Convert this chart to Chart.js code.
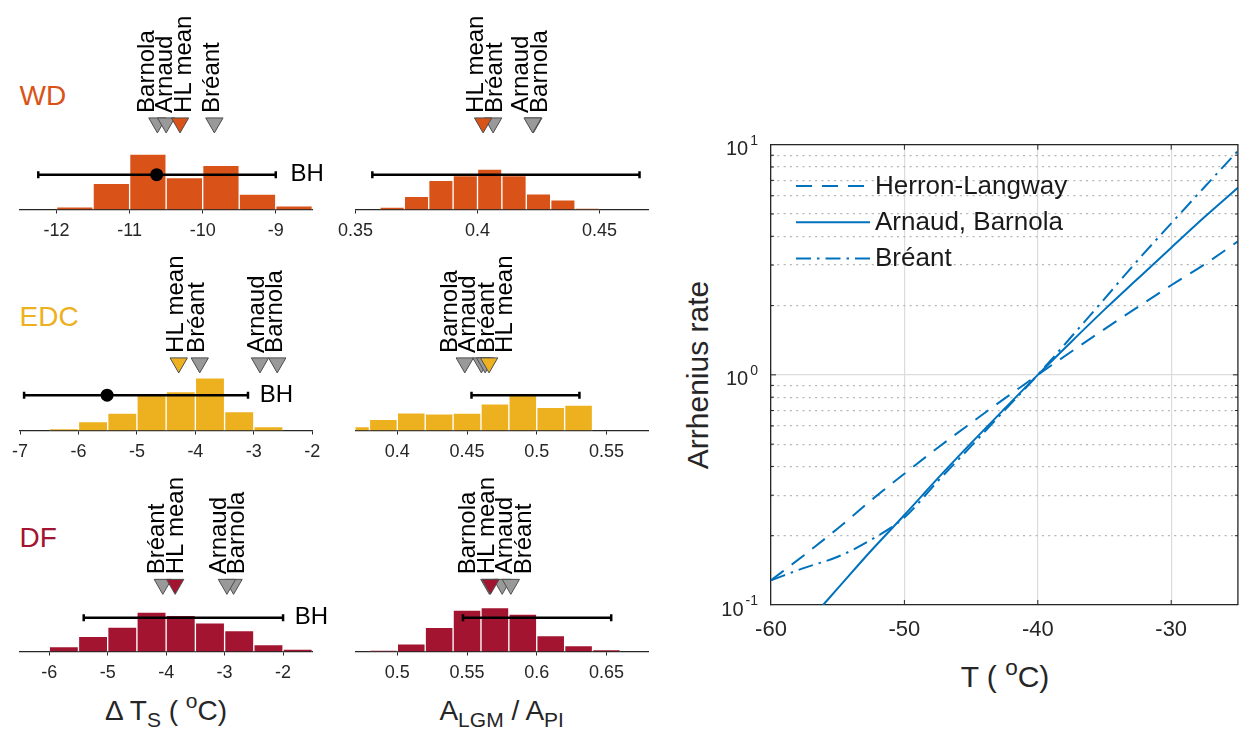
<!DOCTYPE html>
<html>
<head>
<meta charset="utf-8">
<script src="https://cdn.jsdelivr.net/npm/chart.js@4.4.1/dist/chart.umd.min.js"></script>
<style>
  html, body { margin: 0; padding: 0; background: #fff; }
  body { position: relative; width: 1239px; height: 730px; overflow: hidden;
         font-family: "Liberation Sans", Arial, Helvetica, sans-serif; color: #262626; }
  canvas { position: absolute; }
  .txt { position: absolute; white-space: nowrap; line-height: 1; }
  .ctr { transform: translateX(-50%); }
  .rot { transform: translate(-50%, -50%) rotate(-90deg); }
  .sb { font-size: 0.75em; position: relative; top: 0.32em; }
  .sp { font-size: 0.75em; position: relative; top: -0.55em; }
</style>
</head>
<body>
<div class="txt" style="left:19.5px;top:82px;font-size:28px;color:#D95319">WD</div>
<div class="txt" style="left:19.5px;top:303px;font-size:28px;color:#EDB120">EDC</div>
<div class="txt" style="left:19.5px;top:524px;font-size:28px;color:#A2142F">DF</div>
<div class="txt ctr" style="left:166px;top:697px;font-size:28px">&Delta; T<span class="sb">S</span> ( <span class="sp">o</span>C)</div>
<div class="txt ctr" style="left:501.7px;top:697px;font-size:28px">A<span class="sb">LGM</span> / A<span class="sb">PI</span></div>
<div class="txt ctr" style="left:1005px;top:662px;font-size:30px">T ( <span class="sp">o</span>C)</div>
<div class="txt rot" style="left:698px;top:375px;font-size:30px">Arrhenius rate</div>

<script>
// ---------- Histogram data: bin centres and relative frequencies ----------
const wdDtBins   = [-11.75, -11.25, -10.75, -10.25, -9.75, -9.25, -8.75];
const wdDtFreq   = [0.015, 0.146, 0.309, 0.178, 0.247, 0.086, 0.020];
const wdAccBins  = [0.365, 0.375, 0.385, 0.395, 0.405, 0.415, 0.425, 0.435, 0.445];
const wdAccFreq  = [0.013, 0.073, 0.163, 0.189, 0.225, 0.189, 0.088, 0.054, 0.006];
const edcDtBins  = [-6.25, -5.75, -5.25, -4.75, -4.25, -3.75, -3.25, -2.75];
const edcDtFreq  = [0.009, 0.050, 0.098, 0.206, 0.217, 0.294, 0.105, 0.022];
const edcAccBins = [0.37, 0.39, 0.41, 0.43, 0.45, 0.47, 0.49, 0.51, 0.53];
const edcAccFreq = [0.022, 0.062, 0.099, 0.093, 0.097, 0.149, 0.205, 0.130, 0.142];
const dfDtBins   = [-5.75, -5.25, -4.75, -4.25, -3.75, -3.25, -2.75, -2.25, -1.75];
const dfDtFreq   = [0.028, 0.085, 0.137, 0.220, 0.202, 0.160, 0.117, 0.038, 0.013];
const dfAccBins  = [0.49, 0.51, 0.53, 0.55, 0.57, 0.59, 0.61, 0.63, 0.65];
const dfAccFreq  = [0.006, 0.043, 0.135, 0.231, 0.246, 0.209, 0.089, 0.033, 0.009];

// ---------- Densification-model estimates (same order as modelNames) ----------
const modelNames   = ['Barnola', 'Arnaud', 'Bréant', 'HL mean'];
const wdDtModels   = [-10.62, -10.50, -9.84, -10.31];
const wdAccModels  = [0.4229, 0.4226, 0.4064, 0.4023];
const edcDtModels  = [-2.60, -2.895, -3.925, -4.285];
const edcAccModels = [0.4484, 0.4603, 0.4630, 0.4658];
const dfDtModels   = [-2.847, -2.96, -4.057, -3.846];
const dfAccModels  = [0.5660, 0.5752, 0.5814, 0.5668];

// ---------- BH estimates: [low, high, central] ----------
const wdDtBH   = [-12.25, -9.0, -10.63];
const wdAccBH  = [0.3569, 0.4664, null];
const edcDtBH  = [-6.93, -3.10, -5.51];
const edcAccBH = [0.4532, 0.5306, null];
const dfDtBH   = [-5.41, -2.0, null];
const dfAccBH  = [0.5471, 0.6534, null];

// ---------- Axis limits and tick labels ----------
const wdDtRange   = [-12.5, -8.5];  const wdDtTicks   = [-12, -11, -10, -9];
const wdAccRange  = [0.35, 0.47];   const wdAccTicks  = [0.35, 0.4, 0.45];
const edcDtRange  = [-7, -2];       const edcDtTicks  = [-7, -6, -5, -4, -3, -2];
const edcAccRange = [0.37, 0.58];   const edcAccTicks = [0.4, 0.45, 0.5, 0.55];
const dfDtRange   = [-6.5, -1.5];   const dfDtTicks   = [-6, -5, -4, -3, -2];
const dfAccRange  = [0.47, 0.68];   const dfAccTicks  = [0.5, 0.55, 0.6, 0.65];

// ---------- Arrhenius rates, normalised at -40 °C ----------
const tempC        = [-60, -57.5, -55, -52.5, -50, -47.5, -45, -42.5, -40, -37.5, -35, -32.5, -30, -27.5, -25];
const rateHL       = [0.128, 0.165, 0.215, 0.285, 0.372, 0.482, 0.618, 0.788, 1, 1.26, 1.58, 1.97, 2.45, 3.02, 3.8];
const rateBreant   = [0.128, 0.145, 0.162, 0.192, 0.24, 0.345, 0.49, 0.70, 1, 1.46, 2.14, 3.15, 4.55, 6.55, 9.4];
const tempCArnaud  = [-56.1, -55, -52.5, -50, -47.5, -45, -42.5, -40, -37.5, -35, -32.5, -30, -27.5, -25];
const rateArnaud   = [0.1, 0.118, 0.172, 0.246, 0.355, 0.505, 0.712, 1, 1.39, 1.92, 2.62, 3.57, 4.85, 6.5];
const arrhTicksX   = [-60, -50, -40, -30];
const arrhMajorY   = [0.1, 1, 10];
const arrhMinorY   = [0.2, 0.3, 0.4, 0.5, 0.6, 0.7, 0.8, 0.9, 2, 3, 4, 5, 6, 7, 8, 9];

// ---------- Layout / style ----------
Chart.defaults.font.family = '"Liberation Sans", Arial, Helvetica, sans-serif';
Chart.defaults.color = '#262626';

const FONT = '"Liberation Sans", Arial, Helvetica, sans-serif';
const PPU = 180;          // pixels per unit of relative frequency
const AREA_TOP = 10;
const TRI_R = 10;
const LABEL_GAP = 18.5;
const LABEL_SHIFT = -2;
const BH_OFFSET = 0.2;    // BH text sits this far (in x units) right of the bar end

const ROWS = {
  WD:  { top: 0,   height: 245, axisY: 209.5, triTop: 117.5, errY: 174.5, colour: '#D95319' },
  EDC: { top: 240, height: 225, axisY: 430.5, triTop: 357.5, errY: 395,   colour: '#EDB120' },
  DF:  { top: 460, height: 225, axisY: 651.5, triTop: 579,   errY: 617.5, colour: '#A2142F' }
};
const COLS = {
  dT:  { left: 0,   width: 330, x0: 20,    x1: 312.3 },
  acc: { left: 330, width: 330, x0: 355.5, x1: 648.3 }
};

// Spread rotated labels so neighbouring names do not collide
function spreadLabels(px, gap) {
  let groups = px.map(v => ({ sum: v, n: 1 }));
  let merged = true;
  while (merged) {
    merged = false;
    for (let i = 0; i < groups.length - 1; i++) {
      const a = groups[i], b = groups[i + 1];
      const aRight = a.sum / a.n + (a.n - 1) / 2 * gap;
      const bLeft = b.sum / b.n - (b.n - 1) / 2 * gap;
      if (bLeft - aRight < gap) {
        groups.splice(i, 2, { sum: a.sum + b.sum, n: a.n + b.n });
        merged = true;
        break;
      }
    }
  }
  const out = [];
  groups.forEach(g => {
    const c = g.sum / g.n;
    for (let k = 0; k < g.n; k++) out.push(c + (k - (g.n - 1) / 2) * gap);
  });
  return out;
}

function histogramPanel(rowKey, colKey, p) {
  const row = ROWS[rowKey], col = COLS[colKey];
  const cv = document.createElement('canvas');
  cv.width = col.width; cv.height = row.height;
  cv.style.left = col.left + 'px'; cv.style.top = row.top + 'px';
  cv.style.width = col.width + 'px'; cv.style.height = row.height + 'px';
  document.body.appendChild(cv);

  const axisLocal = row.axisY - row.top;
  const yMax = (axisLocal - AREA_TOP) / PPU;
  const toVal = pageY => (row.axisY - pageY) / PPU;
  const markY = toVal(row.triTop + TRI_R / 2);
  const errY = toVal(row.errY);

  const datasets = [
    {
      type: 'bar',
      data: p.bins.map((c, i) => ({ x: c, y: p.freq[i] })),
      backgroundColor: row.colour,
      borderColor: '#ffffff',
      borderWidth: 1,
      barPercentage: 1,
      categoryPercentage: 1,
      order: 10
    },
    {
      type: 'line',
      data: [{ x: p.bh[0], y: errY }, { x: p.bh[1], y: errY }],
      borderColor: '#000',
      borderWidth: 2.5,
      pointStyle: 'line',
      pointRotation: 90,
      pointRadius: 3.5,
      pointBorderWidth: 2.5,
      pointBorderColor: '#000',
      order: 5
    }
  ];
  if (p.bh[2] !== null) {
    datasets.push({
      type: 'line', showLine: false,
      data: [{ x: p.bh[2], y: errY }],
      pointStyle: 'circle', pointRadius: 6.5,
      pointBackgroundColor: '#000', pointBorderColor: '#000', pointBorderWidth: 0,
      order: 4
    });
  }
  datasets.push({
    type: 'line', showLine: false,
    data: p.models.map(v => ({ x: v, y: markY })),
    pointStyle: 'triangle', pointRotation: 180, pointRadius: TRI_R,
    pointBackgroundColor: modelNames.map(n => n === 'HL mean' ? row.colour : '#999999'),
    pointBorderColor: '#4d4d4d', pointBorderWidth: 1,
    order: 1
  });

  const labelPlugin = {
    id: 'modelLabels',
    afterDatasetsDraw(chart) {
      const xs = chart.scales.x, ys = chart.scales.y, ctx = chart.ctx;
      const items = modelNames.map((n, i) => ({ name: n, px: xs.getPixelForValue(p.models[i]) }));
      items.sort((a, b) => a.px - b.px);
      const pos = spreadLabels(items.map(it => it.px), LABEL_GAP);
      const yBase = ys.getPixelForValue(markY) - TRI_R / 2 - 5;
      ctx.save();
      ctx.font = '24px ' + FONT;
      ctx.fillStyle = '#000';
      ctx.textAlign = 'left';
      ctx.textBaseline = 'middle';
      items.forEach((it, k) => {
        ctx.save();
        ctx.translate(pos[k] + LABEL_SHIFT, yBase);
        ctx.rotate(-Math.PI / 2);
        ctx.fillText(it.name, 0, 0);
        ctx.restore();
      });
      if (p.bhLabel) {
        ctx.fillText('BH', xs.getPixelForValue(p.bh[1] + BH_OFFSET), ys.getPixelForValue(errY));
      }
      ctx.restore();
    }
  };

  return new Chart(cv, {
    type: 'bar',
    data: { datasets },
    options: {
      responsive: false,
      animation: false,
      layout: { padding: { left: col.x0 - col.left, right: col.left + col.width - col.x1, top: AREA_TOP, bottom: 0 } },
      plugins: { legend: { display: false }, tooltip: { enabled: false } },
      scales: {
        x: {
          type: 'linear', min: p.range[0], max: p.range[1], offset: false,
          afterBuildTicks: s => { s.ticks = p.ticks.map(v => ({ value: v })); },
          afterFit: s => { s.height = row.height - axisLocal; },
          grid: { display: true, drawOnChartArea: false, drawTicks: true, tickLength: 4,
                  tickColor: '#262626', tickWidth: 1, offset: false },
          border: { display: true, color: '#262626', width: 1.3 },
          ticks: { font: { size: 18 }, color: '#262626', padding: 6.5, maxRotation: 0,
                   autoSkip: false, callback: v => String(v) }
        },
        y: { display: false, min: 0, max: yMax }
      }
    },
    plugins: [labelPlugin]
  });
}

histogramPanel('WD', 'dT',   { bins: wdDtBins,   freq: wdDtFreq,   models: wdDtModels,   bh: wdDtBH,   range: wdDtRange,   ticks: wdDtTicks,   bhLabel: true });
histogramPanel('WD', 'acc',  { bins: wdAccBins,  freq: wdAccFreq,  models: wdAccModels,  bh: wdAccBH,  range: wdAccRange,  ticks: wdAccTicks,  bhLabel: false });
histogramPanel('EDC', 'dT',  { bins: edcDtBins,  freq: edcDtFreq,  models: edcDtModels,  bh: edcDtBH,  range: edcDtRange,  ticks: edcDtTicks,  bhLabel: true });
histogramPanel('EDC', 'acc', { bins: edcAccBins, freq: edcAccFreq, models: edcAccModels, bh: edcAccBH, range: edcAccRange, ticks: edcAccTicks, bhLabel: false });
histogramPanel('DF', 'dT',   { bins: dfDtBins,   freq: dfDtFreq,   models: dfDtModels,   bh: dfDtBH,   range: dfDtRange,   ticks: dfDtTicks,   bhLabel: true });
histogramPanel('DF', 'acc',  { bins: dfAccBins,  freq: dfAccFreq,  models: dfAccModels,  bh: dfAccBH,  range: dfAccRange,  ticks: dfAccTicks,  bhLabel: false });

// ---------- Arrhenius rate panel ----------
(function () {
  const W = 559, H = 630, LEFT = 680, TOP = 100;
  const cv = document.createElement('canvas');
  cv.width = W; cv.height = H;
  cv.style.left = LEFT + 'px'; cv.style.top = TOP + 'px';
  cv.style.width = W + 'px'; cv.style.height = H + 'px';
  document.body.appendChild(cv);

  const BLUE = '#0072BD';
  const area = { left: 91, right: 557.9, top: 44.7, bottom: 505 };

  const legendPlugin = {
    id: 'lineLegend',
    afterDatasetsDraw(chart) {
      const ctx = chart.ctx;
      chart.data.datasets.forEach((ds, i) => {
        const y = 86 + i * 36.2;
        ctx.save();
        ctx.strokeStyle = ds.borderColor;
        ctx.lineWidth = ds.borderWidth;
        ctx.setLineDash(ds.borderDash || []);
        ctx.beginPath();
        ctx.moveTo(116, y);
        ctx.lineTo(190, y);
        ctx.stroke();
        ctx.setLineDash([]);
        ctx.fillStyle = '#1a1a1a';
        ctx.font = '26px ' + FONT;
        ctx.textBaseline = 'middle';
        ctx.fillText(ds.label, 195, y + 0.5);
        ctx.restore();
      });
    }
  };

  const framePlugin = {
    id: 'frameTicks',
    afterDraw(chart) {
      const ctx = chart.ctx, a = chart.chartArea;
      const xs = chart.scales.x, ys = chart.scales.y;
      ctx.save();
      ctx.strokeStyle = '#262626';
      ctx.lineWidth = 1.3;
      ctx.beginPath();
      ctx.moveTo(a.left, a.top); ctx.lineTo(a.right, a.top); ctx.lineTo(a.right, a.bottom);
      ctx.stroke();

      ctx.lineWidth = 1;
      ctx.beginPath();
      arrhTicksX.slice(1).forEach(v => {
        const px = xs.getPixelForValue(v);
        ctx.moveTo(px, a.bottom); ctx.lineTo(px, a.bottom - 5);
        ctx.moveTo(px, a.top); ctx.lineTo(px, a.top + 5);
      });
      const yTick = (v, len) => {
        const py = ys.getPixelForValue(v);
        ctx.moveTo(a.left, py); ctx.lineTo(a.left + len, py);
        ctx.moveTo(a.right, py); ctx.lineTo(a.right - len, py);
      };
      yTick(1, 5);
      arrhMinorY.forEach(v => yTick(v, 3));
      ctx.stroke();

      // decade labels written as 10 with a raised exponent
      ctx.fillStyle = '#262626';
      ctx.textBaseline = 'middle';
      ctx.textAlign = 'left';
      const rightEdge = a.left - 13;
      arrhMajorY.forEach(v => {
        const exp = String(Math.round(Math.log10(v)));
        const py = ys.getPixelForValue(v) + 5;
        ctx.font = '14px ' + FONT;
        const we = ctx.measureText(exp).width;
        ctx.font = '20px ' + FONT;
        const wb = ctx.measureText('10').width;
        const xb = rightEdge - we - wb - 2;
        ctx.fillText('10', xb, py);
        ctx.font = '14px ' + FONT;
        ctx.fillText(exp, xb + wb + 2, py - 9);
      });
      ctx.restore();
    }
  };

  new Chart(cv, {
    type: 'line',
    data: {
      datasets: [
        { label: 'Herron-Langway', data: tempC.map((t, i) => ({ x: t, y: rateHL[i] })),
          borderColor: BLUE, borderWidth: 2, borderDash: [16, 10], pointRadius: 0,
          cubicInterpolationMode: 'monotone' },
        { label: 'Arnaud, Barnola', data: tempCArnaud.map((t, i) => ({ x: t, y: rateArnaud[i] })),
          borderColor: BLUE, borderWidth: 2, borderDash: [], pointRadius: 0,
          cubicInterpolationMode: 'monotone' },
        { label: 'Bréant', data: tempC.map((t, i) => ({ x: t, y: rateBreant[i] })),
          borderColor: BLUE, borderWidth: 2, borderDash: [15, 6, 2.5, 6], pointRadius: 0,
          cubicInterpolationMode: 'monotone' }
      ]
    },
    options: {
      responsive: false,
      animation: false,
      layout: { padding: { left: area.left, right: W - area.right, top: area.top, bottom: 0 } },
      plugins: { legend: { display: false }, tooltip: { enabled: false } },
      scales: {
        x: {
          type: 'linear', min: -60, max: -25,
          afterBuildTicks: s => { s.ticks = arrhTicksX.map(v => ({ value: v })); },
          afterFit: s => { s.height = H - area.bottom; },
          grid: { color: '#dcdcdc', lineWidth: 1.2, drawTicks: false },
          border: { display: true, color: '#262626', width: 1.3 },
          ticks: { font: { size: 22 }, color: '#262626', padding: 11.8, maxRotation: 0,
                   autoSkip: false, callback: v => String(v) }
        },
        y: {
          type: 'logarithmic', position: 'left', min: 0.1, max: 10,
          afterBuildTicks: s => { s.ticks = arrhMajorY.map(v => ({ value: v })); },
          afterFit: s => { s.width = 0; },
          grid: { color: '#dcdcdc', lineWidth: 1.2, drawTicks: false },
          border: { display: true, color: '#262626', width: 1.3 },
          ticks: { display: false }
        },
        y2: {
          type: 'logarithmic', position: 'left', min: 0.1, max: 10,
          afterBuildTicks: s => { s.ticks = arrhMinorY.map(v => ({ value: v })); },
          afterFit: s => { s.width = 0; },
          grid: { color: '#b5b5b5', lineWidth: 1.2, drawTicks: false, borderDash: [2, 4.3] },
          border: { display: false, dash: [2, 4.3] },
          ticks: { display: false }
        }
      }
    },
    plugins: [legendPlugin, framePlugin]
  });
})();
</script>
</body>
</html>
